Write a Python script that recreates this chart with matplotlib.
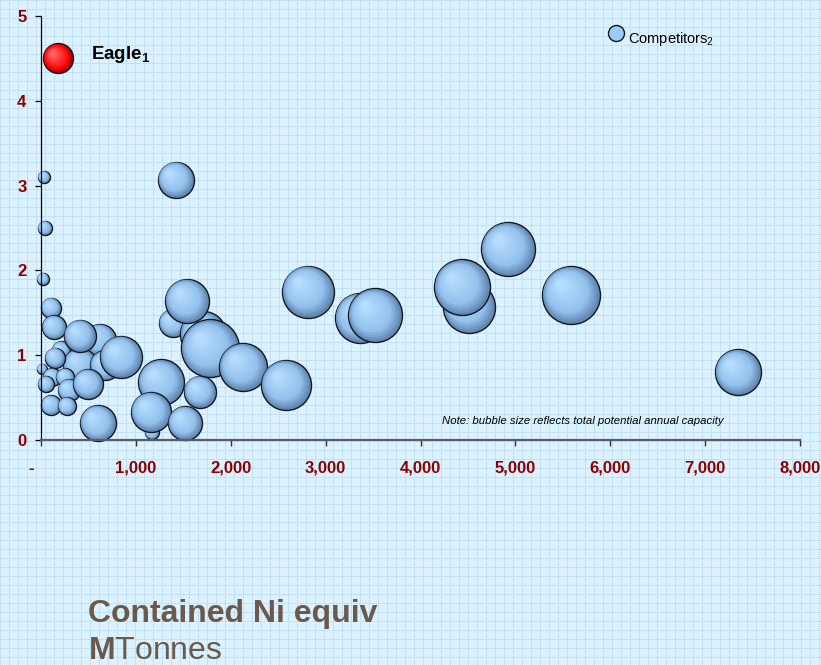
import numpy as np
import matplotlib
matplotlib.use("Agg")
import matplotlib.pyplot as plt
from matplotlib.transforms import ScaledTranslation
from matplotlib.colors import to_rgb

plt.rcParams['font.family'] = ['Liberation Sans', 'DejaVu Sans']
plt.rcParams['mathtext.fontset'] = 'custom'
plt.rcParams['mathtext.rm'] = 'Liberation Sans'
plt.rcParams['mathtext.bf'] = 'Liberation Sans:bold'
plt.rcParams['mathtext.it'] = 'Liberation Sans:italic'

# ---------------- data ----------------
# Competitors: contained Ni (x), grade-like value (y), capacity (bubble size)
comp_x = [32, 42, 21, 1423, 4511, 4437, 4922, 5586, 2814, 3362, 3520, 7346,
          211, 622, 411, 675, 105, 137, 411, 148, 11, 116, 253, 53, 295, 495,
          843, 105, 274, 601, 1265, 1170, 1159, 1518, 1676, 1391, 1708, 1781,
          1539, 2129, 2582]
comp_y = [3.10, 2.50, 1.90, 3.07, 1.57, 1.80, 2.25, 1.71, 1.75, 1.44, 1.47, 0.80,
          1.06, 1.18, 0.88, 0.88, 1.56, 1.33, 1.23, 0.97, 0.84, 0.74, 0.74, 0.66,
          0.59, 0.66, 0.98, 0.41, 0.40, 0.20, 0.68, 0.09, 0.33, 0.20, 0.57, 1.38,
          1.25, 1.08, 1.64, 0.86, 0.65]
comp_cap = [3.6, 4.9, 3.6, 32.4, 67.6, 78.4, 72.9, 84.1, 67.6, 62.5, 72.9, 52.9,
            8.1, 25.6, 28.9, 22.5, 10.0, 14.4, 25.6, 10.0, 2.5, 8.1, 8.1, 6.4,
            12.1, 22.5, 44.1, 10.0, 8.1, 32.4, 52.9, 4.9, 40.0, 28.9, 25.6, 19.6,
            52.9, 84.1, 48.4, 57.6, 62.5]

eagle_x = [179]
eagle_y = [4.50]
eagle_cap = [22.5]

x_ticks = [0, 1000, 2000, 3000, 4000, 5000, 6000, 7000, 8000]
x_tick_labels = ['-', '1,000', '2,000', '3,000', '4,000', '5,000', '6,000', '7,000', '8,000']
y_ticks = [0, 1, 2, 3, 4, 5]
y_tick_labels = ['0', '1', '2', '3', '4', '5']

# ---------------- figure ----------------
W, H = 821, 665
DPI = 100
fig = plt.figure(figsize=(W / DPI, H / DPI), dpi=DPI)

# graph-paper background
bg = fig.add_axes([0, 0, 1, 1], zorder=-10)
ii, jj = np.mgrid[0:H, 0:W]
c1 = np.array(to_rgb('#d6edf9'))
c2 = np.array(to_rgb('#eaf6fd'))
cl = np.array(to_rgb('#c2e1f4'))
img = np.where(((ii + jj) % 2 == 0)[..., None], c1, c2)
grid = ((ii % 9) == 0) | ((jj % 9) == 0)
img[grid] = cl
bg.imshow(img, aspect='auto', interpolation='nearest', extent=[0, W, H, 0])
bg.set_axis_off()

ax = fig.add_axes([41 / W, 1 - 440 / H, (800 - 41) / W, (440 - 16) / H])
ax.set_facecolor('none')
ax.set_xlim(0, 8000)
ax.set_ylim(0, 5)


def cap_to_rpx(c):
    return np.sqrt(c / 0.1)


def sphere(x, y, cap, edge, mid, hi, n=14, split=0.3):
    r_px = cap_to_rpx(cap)
    r_pt = r_px * 72.0 / DPI
    e, m, h = np.array(to_rgb(edge)), np.array(to_rgb(mid)), np.array(to_rgb(hi))
    d = np.array([-0.6, 0.6])
    d = d / np.linalg.norm(d)
    for i in range(n):
        t = i / (n - 1)
        f = 1.0 - 0.85 * t
        off = r_pt * (1 - f) * 0.6
        if t < split:
            col = e + (m - e) * (t / split)
        else:
            col = m + (h - m) * ((t - split) / (1 - split))
        tr = ax.transData + ScaledTranslation(d[0] * off / 72.0, d[1] * off / 72.0,
                                              fig.dpi_scale_trans)
        ax.scatter([x], [y], s=(2 * r_pt * f) ** 2, color=[col],
                   edgecolors='#101820' if i == 0 else 'none',
                   linewidths=1.0 if i == 0 else 0,
                   transform=tr, clip_on=False, zorder=2)


for x, y, c in zip(comp_x, comp_y, comp_cap):
    sphere(x, y, c, '#6287b1', '#93c0ec', '#b6ddff')

for x, y, c in zip(eagle_x, eagle_y, eagle_cap):
    sphere(x, y, c, '#b00000', '#ff1010', '#ff6868')

ax.annotate('Eagle$_\\mathregular{1}$', xy=(eagle_x[0], eagle_y[0]),
            xytext=(24, 3), textcoords='offset points', ha='left', va='center',
            fontsize=13.5, fontweight='bold', color='#000000', zorder=5)

# legend (manual)
ax.scatter([0.7576], [0.960], s=(16 * 0.72) ** 2, color='#9dcbf8', edgecolors='#101820',
           linewidths=1.0, transform=ax.transAxes, clip_on=False, zorder=5)
ax.text(0.7734, 0.936, 'Competitors$_\\mathregular{2}$', transform=ax.transAxes,
        ha='left', va='baseline', fontsize=10.5, color='#000000', zorder=5)

ax.text(0.900, 0.045, 'Note: bubble size reflects total potential annual capacity',
        transform=ax.transAxes, ha='right', va='center', fontsize=8.2,
        style='italic', color='#000000', zorder=5)

# axes styling
for s in ['top', 'right']:
    ax.spines[s].set_visible(False)
ax.spines['left'].set_color('#000000')
ax.spines['left'].set_linewidth(0.9)
ax.spines['bottom'].set_color('#565e68')
ax.spines['bottom'].set_linewidth(1.6)
ax.spines['left'].set_zorder(6)
ax.spines['bottom'].set_zorder(6)

ax.set_xticks(x_ticks)
ax.set_xticklabels(x_tick_labels)
ax.set_yticks(y_ticks)
ax.set_yticklabels(y_tick_labels)
ax.tick_params(axis='x', direction='out', length=4, width=1.0, color='#333333',
               pad=11, labelsize=12, labelcolor='#8b0000')
ax.tick_params(axis='y', direction='out', length=4.5, width=0.9, color='#000000',
               pad=6, labelsize=12, labelcolor='#8b0000')
for lbl in ax.get_xticklabels() + ax.get_yticklabels():
    lbl.set_fontweight('bold')

t0 = ax.xaxis.get_major_ticks()[0].label1
t0.set_transform(t0.get_transform() + ScaledTranslation(-10 / DPI, 0, fig.dpi_scale_trans))

# bottom titles
fig.text(88 / W, 1 - 622 / H, 'Contained Ni equiv', fontsize=23, fontweight='bold',
         color='#6b5a4b', ha='left', va='baseline')
fig.text(88 / W, 1 - 659 / H, '$\\mathbf{M}$Tonnes', fontsize=23,
         color='#6b5a4b', ha='left', va='baseline')

fig.savefig('out.png', dpi=DPI)
